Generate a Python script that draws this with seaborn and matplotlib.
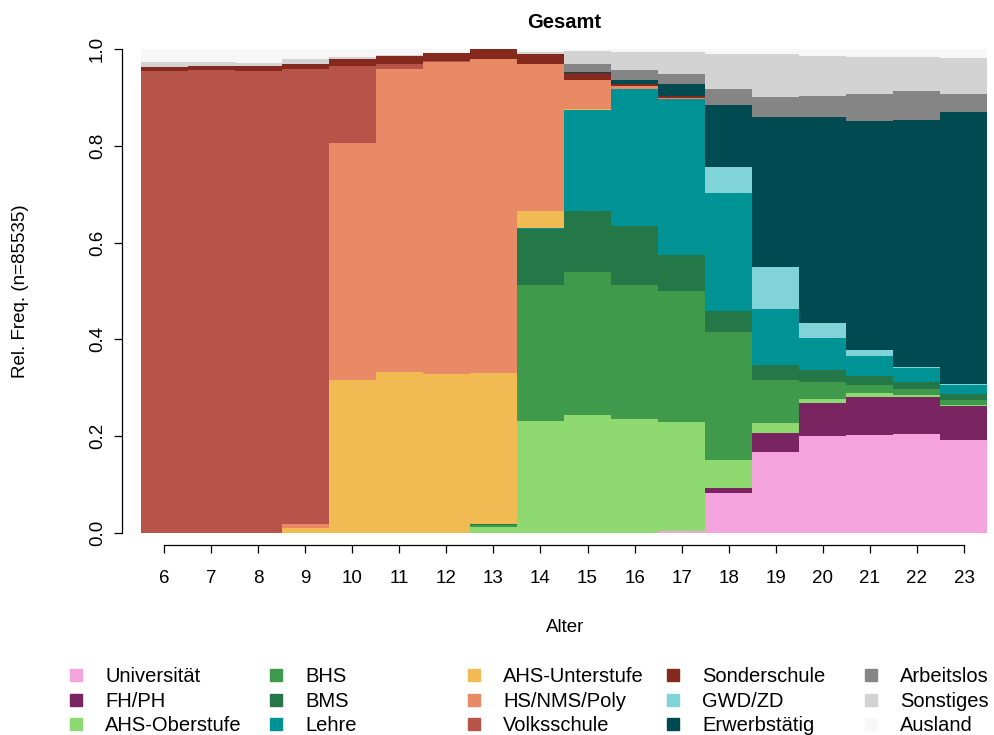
import numpy as np
import pandas as pd
import matplotlib
matplotlib.use("Agg")
import matplotlib.pyplot as plt
import seaborn as sns
from matplotlib.lines import Line2D

# Alter 6..23
alter = list(range(6, 24))

# relative Anteile je Status (von unten nach oben gestapelt)
universitaet   = [0, 0, 0, 0, 0, 0, 0, 0, 0, 0, 0, 0.004, 0.082, 0.167, 0.201, 0.202, 0.205, 0.193]
fh_ph          = [0, 0, 0, 0, 0, 0, 0, 0, 0, 0, 0, 0, 0.012, 0.040, 0.067, 0.080, 0.075, 0.069]
ahs_oberstufe  = [0, 0, 0, 0, 0, 0, 0, 0.013, 0.231, 0.244, 0.236, 0.226, 0.057, 0.021, 0.009, 0.007, 0.005, 0.003]
bhs            = [0, 0, 0, 0, 0, 0, 0, 0.003, 0.281, 0.295, 0.276, 0.270, 0.265, 0.088, 0.036, 0.017, 0.013, 0.010]
bms            = [0, 0, 0, 0, 0, 0, 0, 0.002, 0.116, 0.126, 0.122, 0.074, 0.043, 0.031, 0.024, 0.019, 0.013, 0.013]
lehre          = [0, 0, 0, 0, 0, 0, 0, 0, 0.002, 0.209, 0.283, 0.323, 0.244, 0.116, 0.066, 0.041, 0.029, 0.017]
ahs_unterstufe = [0, 0, 0, 0.011, 0.316, 0.333, 0.329, 0.312, 0.036, 0.003, 0, 0, 0, 0, 0, 0, 0, 0]
hs_nms_poly    = [0, 0, 0, 0.008, 0.490, 0.625, 0.644, 0.649, 0.303, 0.059, 0.007, 0.002, 0, 0, 0, 0, 0, 0]
volksschule    = [0.955, 0.956, 0.954, 0.939, 0.159, 0.012, 0.002, 0, 0, 0, 0, 0, 0, 0, 0, 0, 0, 0]
sonderschule   = [0.008, 0.009, 0.011, 0.012, 0.014, 0.016, 0.016, 0.021, 0.021, 0.014, 0.004, 0.004, 0, 0, 0, 0, 0, 0]
gwd_zd         = [0, 0, 0, 0, 0, 0, 0, 0, 0, 0, 0, 0, 0.054, 0.087, 0.031, 0.012, 0.004, 0.002]
erwerbstaetig  = [0, 0, 0, 0, 0, 0, 0, 0, 0, 0.002, 0.008, 0.024, 0.127, 0.310, 0.426, 0.473, 0.510, 0.563]
arbeitslos     = [0, 0, 0, 0, 0, 0, 0, 0, 0, 0.016, 0.021, 0.022, 0.033, 0.041, 0.042, 0.057, 0.059, 0.038]
sonstiges      = [0.010, 0.008, 0.007, 0.009, 0.005, 0.002, 0.001, 0, 0.004, 0.028, 0.037, 0.044, 0.073, 0.088, 0.084, 0.076, 0.070, 0.073]
ausland        = [0.027, 0.027, 0.028, 0.021, 0.016, 0.012, 0.008, 0, 0.006, 0.004, 0.006, 0.007, 0.010, 0.012, 0.014, 0.016, 0.017, 0.020]

labels = ["Universität", "FH/PH", "AHS-Oberstufe", "BHS", "BMS", "Lehre",
          "AHS-Unterstufe", "HS/NMS/Poly", "Volksschule", "Sonderschule",
          "GWD/ZD", "Erwerbstätig", "Arbeitslos", "Sonstiges", "Ausland"]
serien = [universitaet, fh_ph, ahs_oberstufe, bhs, bms, lehre, ahs_unterstufe,
          hs_nms_poly, volksschule, sonderschule, gwd_zd, erwerbstaetig,
          arbeitslos, sonstiges, ausland]
farben = ["#F4A3DC", "#7A2462", "#8ED970", "#3F9B4B", "#247848", "#009396",
          "#F1BA53", "#E98A67", "#B7544A", "#85291E", "#80D3D8", "#004A51",
          "#858585", "#D3D3D3", "#F7F7F7"]

# long format fuer seaborn
rows = []
for lab, vals in zip(labels, serien):
    for a, v in zip(alter, vals):
        rows.append((a, lab, v))
df = pd.DataFrame(rows, columns=["Alter", "Status", "Anteil"])

sns.set_style("white")
plt.rcParams["font.family"] = ["Liberation Sans", "DejaVu Sans"]
plt.rcParams["text.color"] = "black"
plt.rcParams["xtick.color"] = "black"
plt.rcParams["ytick.color"] = "black"
plt.rcParams["axes.labelcolor"] = "black"

fig = plt.figure(figsize=(9.94, 7.35), dpi=100)
ax = fig.add_axes([140.5 / 994, 1 - 533 / 735, 847 / 994, 484 / 735])

# seaborn stapelt die letzte hue-Stufe unten -> Reihenfolge umdrehen
sns.histplot(data=df, x="Alter", hue="Status", weights="Anteil",
             hue_order=labels[::-1], palette=dict(zip(labels, farben)),
             multiple="stack", discrete=True, shrink=1, alpha=1,
             linewidth=0, legend=False, ax=ax)

ax.set_xlim(5.5, 23.5)
ax.set_ylim(0, 1)
ax.set_xlabel("")
ax.set_ylabel("")

for s in ["top", "right"]:
    ax.spines[s].set_visible(False)
ax.spines["left"].set_position(("outward", 13))
ax.spines["left"].set_bounds(0, 1)
ax.spines["bottom"].set_position(("outward", 8.6))
ax.spines["bottom"].set_bounds(6, 23)
for s in ["left", "bottom"]:
    ax.spines[s].set_color("black")
    ax.spines[s].set_linewidth(0.9)

ax.set_xticks(alter)
ax.set_xticklabels([str(a) for a in alter], fontsize=13.5)
ax.set_yticks([0, 0.2, 0.4, 0.6, 0.8, 1.0])
ax.set_yticklabels(["0.0", "0.2", "0.4", "0.6", "0.8", "1.0"],
                   rotation=90, va="center", fontsize=13.5)
ax.tick_params(axis="both", direction="out", length=6, width=0.9,
               color="black", labelcolor="black", left=True, bottom=True)
ax.tick_params(axis="x", pad=12)
ax.tick_params(axis="y", pad=6)

fig.text(564 / 994, 1 - 22 / 735, "Gesamt", ha="center", va="center",
         fontsize=14.5, fontweight="bold")
fig.text(565 / 994, 1 - 627 / 735, "Alter", ha="center", va="center", fontsize=13.5)
fig.text(21 / 994, 1 - 291 / 735, "Rel. Freq. (n=85535)", ha="center",
         va="center", rotation=90, fontsize=13.5)

# Legende: 5 Spalten a 3 Eintraege
spalten_x = [66, 266, 464, 663, 861]
for i, x0 in enumerate(spalten_x):
    idx = range(i * 3, i * 3 + 3)
    handles = [Line2D([], [], marker="s", linestyle="none", markersize=8,
                      color=farben[k]) for k in idx]
    fig.legend(handles, [labels[k] for k in idx], loc="upper left",
               bbox_to_anchor=(x0 / 994, 1 - 667 / 735), frameon=False,
               fontsize=14.5, handlelength=1.0, handletextpad=0.95,
               labelspacing=0.28, borderpad=0, borderaxespad=0)

fig.savefig("out.png", dpi=100)
